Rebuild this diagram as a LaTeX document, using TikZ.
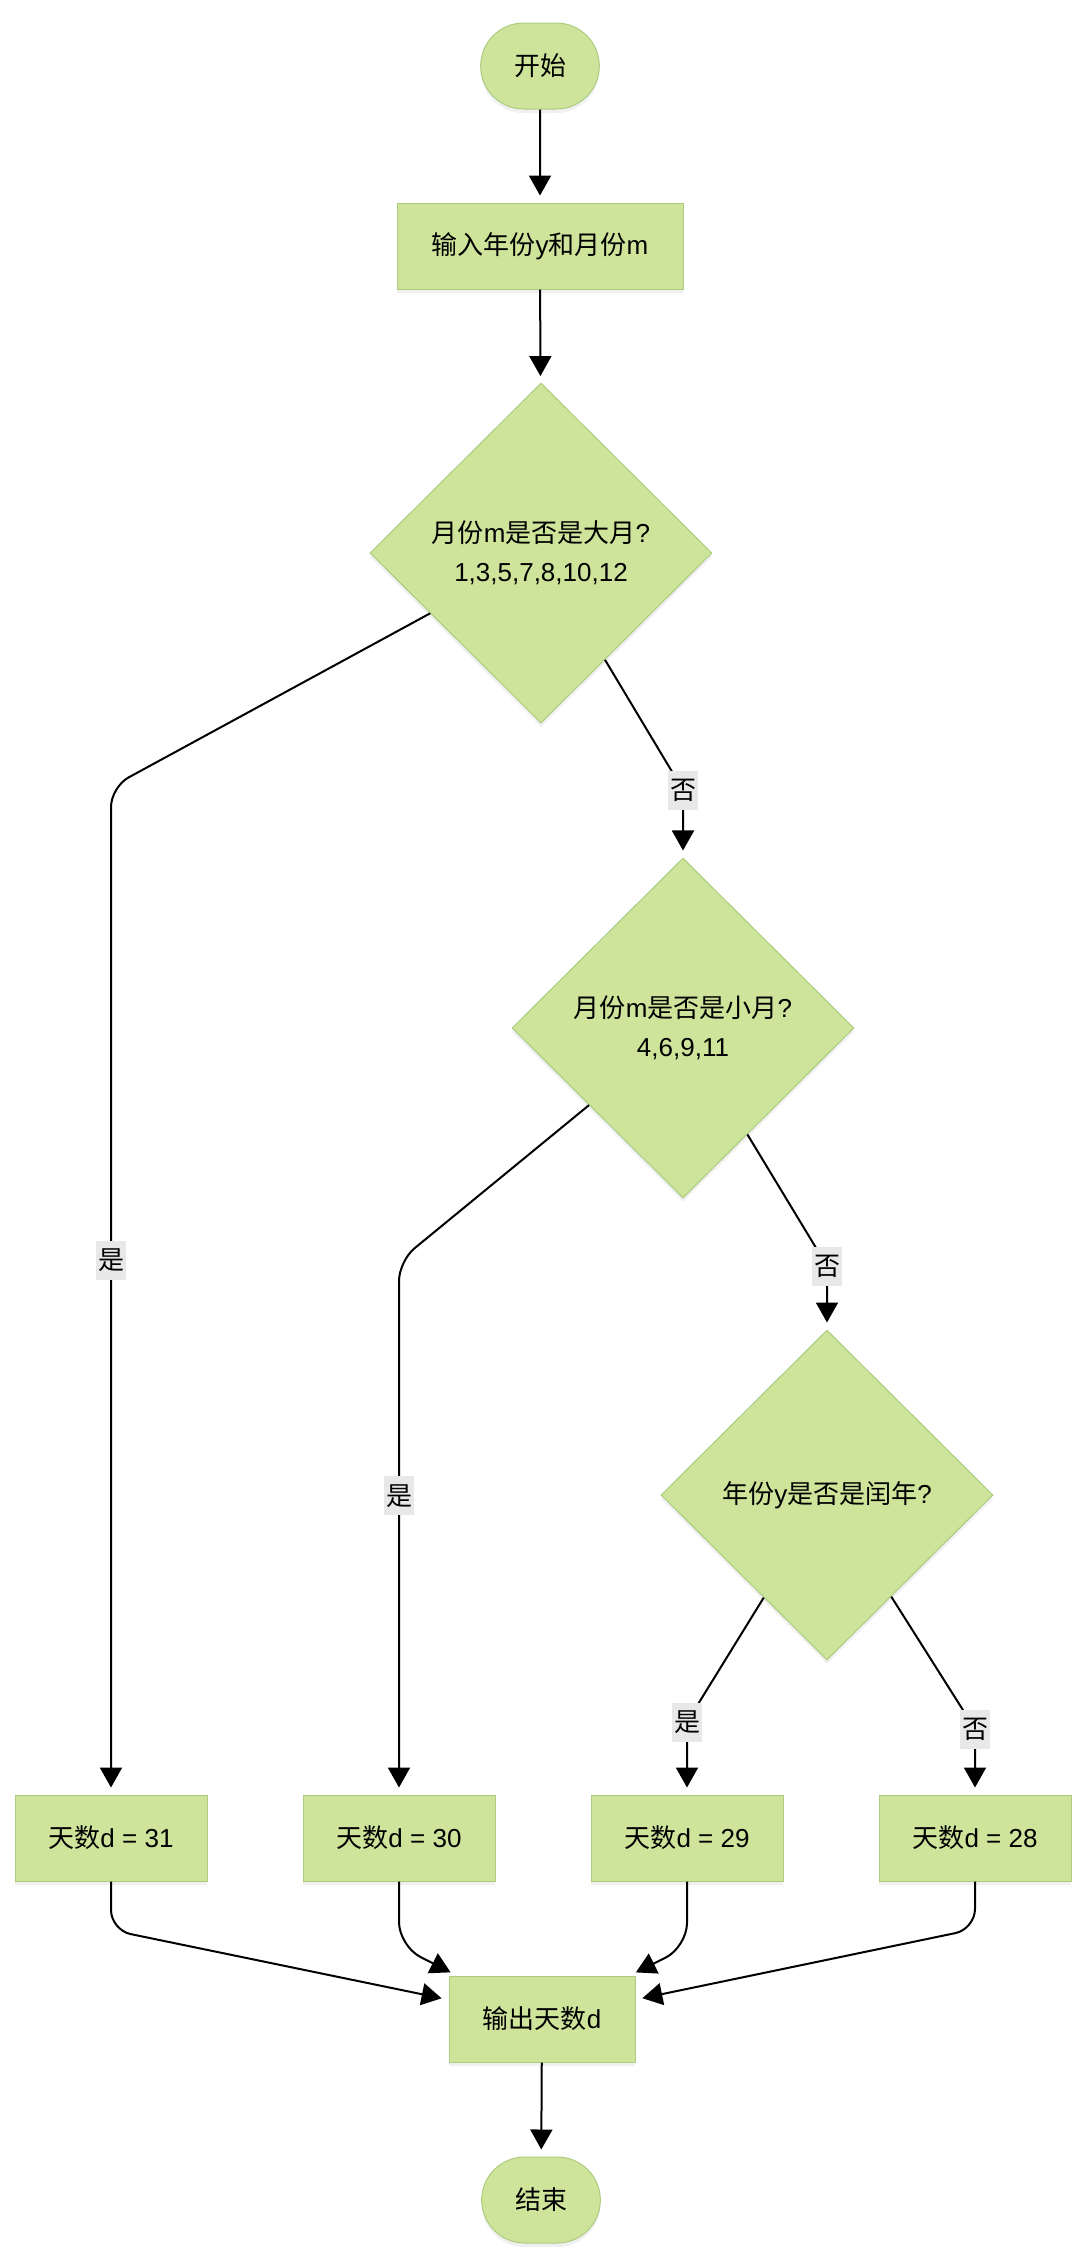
\documentclass[tikz,border=0pt]{standalone}
\usepackage{fontspec}
\setmainfont{Liberation Sans}
\newfontfamily\cjk{Noto Sans CJK SC}
\usepackage{tikz}
\usetikzlibrary{shapes.geometric,shapes.misc,arrows.meta,shadows}
\definecolor{nodegreen}{RGB}{205, 228, 154}
\definecolor{nodeedge}{RGB}{172, 204, 128}
\definecolor{labelgrey}{RGB}{232, 232, 232}
\newcommand{\chartfont}{\fontsize{13pt}{19.5pt}\selectfont}

\tikzset{
  base/.style={draw=nodeedge, line width=0.5pt, fill=nodegreen, align=center,
    drop shadow={opacity=0.12, shadow xshift=0pt, shadow yshift=-2pt}},
  terminal/.style={base, rounded rectangle, minimum width=66pt, minimum height=43pt},
  process/.style={base, rectangle, minimum width=96pt, minimum height=43pt},
  decision/.style={base, diamond, minimum width=171pt, minimum height=170pt, inner sep=0pt},
  branch/.style={sharp corners, fill=labelgrey, font=\cjk\chartfont, inner xsep=1pt, inner ysep=0pt, minimum height=19.5pt},
  flow/.style={->, line width=1pt, shorten >=3.5pt, rounded corners=10pt},
}

\begin{document}
\begin{tikzpicture}[x=0.5pt, y=-0.5pt, >={Triangle[width=11pt,length=10pt]}, font=\chartfont]
        \useasboundingbox (0, 0) rectangle (1080, 2266);

        % Main column
        \node[terminal] (start) at (540, 66) {{\cjk 开始}};
        \node[process, minimum width=143pt] (input) at (540, 246) {{\cjk 输入年份}y{\cjk 和月份}m};
        \node[decision] (big) at (541, 553) {{\cjk 月份}m{\cjk 是否是大月}?\\1,3,5,7,8,10,12};
        \node[decision] (small) at (683, 1028) {{\cjk 月份}m{\cjk 是否是小月}?\\4,6,9,11};
        \node[decision, minimum width=166pt, minimum height=165pt] (leap) at (827, 1495) {{\cjk 年份}y{\cjk 是否是闰年}?};

        % Results
        \node[process] (d31) at (111, 1838) {{\cjk 天数}d = 31};
        \node[process] (d30) at (399, 1838) {{\cjk 天数}d = 30};
        \node[process] (d29) at (687, 1838) {{\cjk 天数}d = 29};
        \node[process] (d28) at (975, 1838) {{\cjk 天数}d = 28};
        \node[process, minimum width=93pt] (output) at (542, 2019) {{\cjk 输出天数}d};
        \node[terminal] (stop) at (541, 2200) {{\cjk 结束}};

        % Bend points
        \coordinate (k31) at (111, 787);
        \coordinate (kno1) at (683, 790);
        \coordinate (k30) at (399, 1261);
        \coordinate (kno2) at (827, 1266);
        \coordinate (k29) at (687, 1722);
        \coordinate (k28) at (975, 1729);
        \coordinate (j31) at (111, 1930);
        \coordinate (j30) at (399, 1946);
        \coordinate (j29) at (687, 1947);
        \coordinate (j28) at (975, 1929);

        % Connectors
        \draw[flow] (start) -- (input);
        \draw[flow] (input) -- (big);
        \draw[flow] (big) -- (k31) -- node[branch, pos=0.47] (yes1) {是} (d31);
        \draw[flow] (big) -- (kno1) node[branch] (no1) {否} -- (small);
        \draw[flow] (small) -- (k30) -- node[branch, pos=0.44] (yes2) {是} (d30);
        \draw[flow] (small) -- (kno2) node[branch] (no2) {否} -- (leap);
        \draw[flow] (leap) -- (k29) node[branch] (yes3) {是} -- (d29);
        \draw[flow] (leap) -- (k28) node[branch] (no3) {否} -- (d28);
        \draw[flow] (d31) -- (j31) -- (output);
        \draw[flow, rounded corners=12pt] (d30) -- (j30) -- (output);
        \draw[flow, rounded corners=12pt] (d29) -- (j29) -- (output);
        \draw[flow] (d28) -- (j28) -- (output);
        \draw[flow] (output) -- (stop);
    \end{tikzpicture}
\end{document}
